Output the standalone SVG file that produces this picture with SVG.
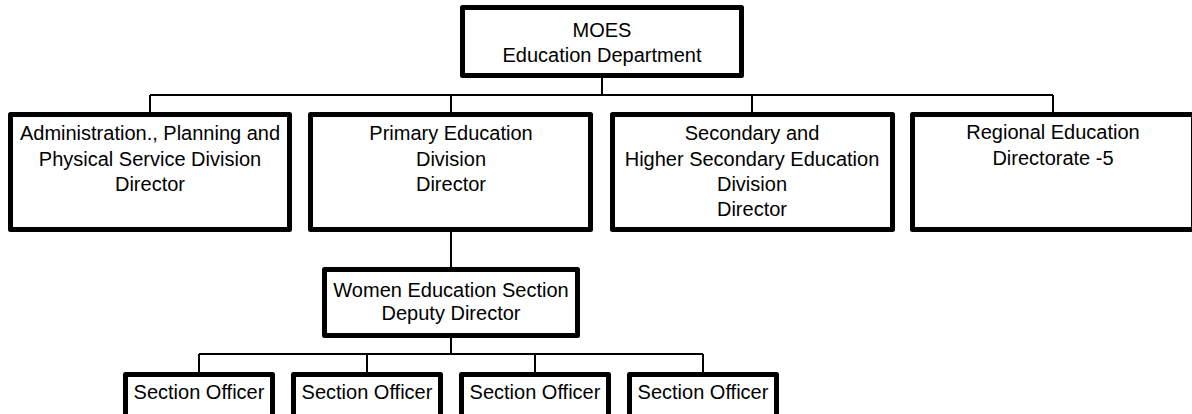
<svg xmlns="http://www.w3.org/2000/svg" width="1192" height="414" viewBox="0 0 1192 414">
  <style>
    .box { fill: #ffffff; stroke: #000000; stroke-width: 5; stroke-linejoin: round; }
    .link { fill: none; stroke: #000000; stroke-width: 2; }
    text { font-family: "Liberation Sans", Arial, sans-serif; font-size: 20px; fill: #000000; text-anchor: middle; }
  </style>
  <rect width="1192" height="414" fill="#ffffff"/>

  <!-- connectors -->
  <g id="connectors">
    <path class="link" d="M602 78 V95 M150 95 H1053 M150 95 V112 M451 95 V112 M752 95 V112 M1053 95 V112"/>
    <path class="link" d="M451 232 V267 M451 338 V354 M199 354 H703 M199 354 V372 M367 354 V372 M535 354 V372 M703 354 V372"/>
  </g>

  <g id="moes">
    <rect class="box" x="462.5" y="7.5" width="279" height="68"/>
    <text x="602" y="37">MOES</text>
    <text x="602" y="62">Education Department</text>
  </g>

  <g id="admin-division">
    <rect class="box" x="10.5" y="114.5" width="279" height="115"/>
    <text x="150" y="140">Administration., Planning and</text>
    <text x="150" y="166">Physical Service Division</text>
    <text x="150" y="191">Director</text>
  </g>

  <g id="primary-division">
    <rect class="box" x="310.5" y="114.5" width="280" height="115"/>
    <text x="451" y="140">Primary Education</text>
    <text x="451" y="166">Division</text>
    <text x="451" y="191">Director</text>
  </g>

  <g id="secondary-division">
    <rect class="box" x="612.5" y="114.5" width="280" height="115"/>
    <text x="752" y="140">Secondary and</text>
    <text x="752" y="166">Higher Secondary Education</text>
    <text x="752" y="191">Division</text>
    <text x="752" y="216">Director</text>
  </g>

  <g id="regional-directorate">
    <rect class="box" x="912.5" y="114.5" width="281" height="115"/>
    <text x="1053" y="139">Regional Education</text>
    <text x="1053" y="165">Directorate -5</text>
  </g>

  <g id="women-section">
    <rect class="box" x="324.5" y="269.5" width="253" height="66"/>
    <text x="451" y="297">Women Education Section</text>
    <text x="451" y="320">Deputy Director</text>
  </g>

  <g id="officer-1">
    <rect class="box" x="125.5" y="374.5" width="147" height="50"/>
    <text x="199" y="399">Section Officer</text>
  </g>
  <g id="officer-2">
    <rect class="box" x="293.5" y="374.5" width="147" height="50"/>
    <text x="367" y="399">Section Officer</text>
  </g>
  <g id="officer-3">
    <rect class="box" x="461.5" y="374.5" width="147" height="50"/>
    <text x="535" y="399">Section Officer</text>
  </g>
  <g id="officer-4">
    <rect class="box" x="629.5" y="374.5" width="147" height="50"/>
    <text x="703" y="399">Section Officer</text>
  </g>
</svg>
